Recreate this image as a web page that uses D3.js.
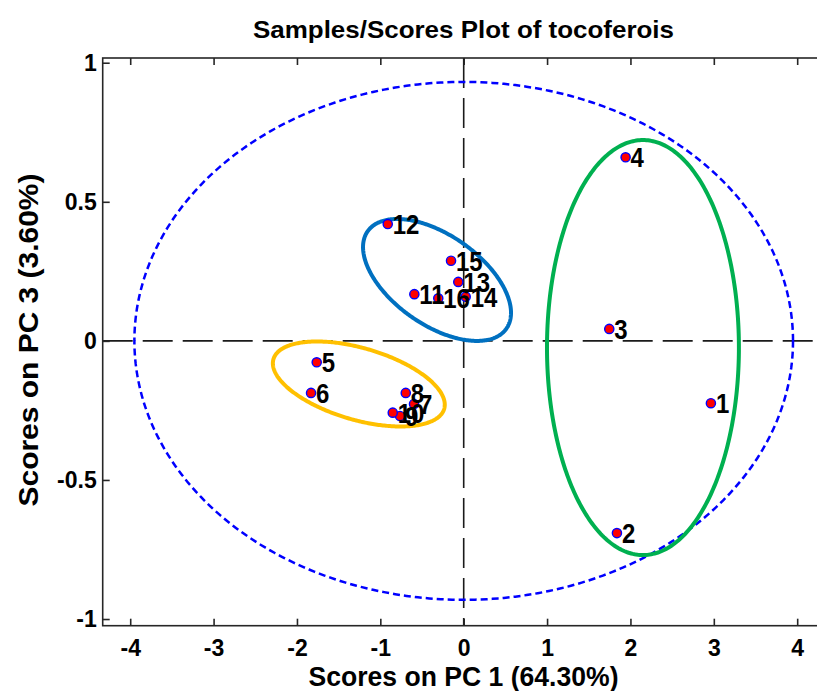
<!DOCTYPE html>
<html><head><meta charset="utf-8">
<script src="https://cdn.jsdelivr.net/npm/d3@7/dist/d3.min.js"></script>
<style>body{margin:0;background:#fff;overflow:hidden}svg{display:block}</style>
</head><body><svg id="c" width="817" height="691"></svg>
<script>
// ---- data ----
const sampleIds = ["1","2","3","4","5","6","7","8","9","10","11","12","13","14","15","16"];
const pc1Scores = [2.965, 1.838, 1.746, 1.942, -1.763, -1.831, -0.596, -0.695, -0.764, -0.851, -0.592, -0.911, -0.065, 0.024, -0.152, -0.305];
const pc3Scores = [-0.224, -0.691, 0.043, 0.660, -0.077, -0.187, -0.227, -0.187, -0.270, -0.258, 0.168, 0.420, 0.212, 0.159, 0.288, 0.153];
const xTickValues = [-4, -3, -2, -1, 0, 1, 2, 3, 4];
const xTickLabels = ["-4", "-3", "-2", "-1", "0", "1", "2", "3", "4"];
const yTickValues = [-1, -0.5, 0, 0.5, 1];
const yTickLabels = ["-1", "-0.5", "0", "0.5", "1"];
const xDomain = [-4.33, 4.33];
const yDomain = [-1.024, 1.017];
// ellipses: centre + two semi-axis vectors, in score units
const ellipseNames = ["confidence", "groupA", "groupB", "groupC"];
const ellipseCx = [0, 2.150, -0.320, -1.258];
const ellipseCy = [0, -0.024, 0.219, -0.155];
const ellipseAxisU = [[3.95, 0], [1.151, 0], [0.832, -0.175], [1.024, -0.0893]];
const ellipseAxisV = [[0, 0.931], [0, 0.746], [-0.309, -0.132], [-0.120, -0.124]];
const titleText = "Samples/Scores Plot of tocoferois";
const xLabelText = "Scores on PC 1 (64.30%)";
const yLabelText = "Scores on PC 3 (3.60%)";

// ---- styles ----
const ellipseStyle = {
  confidence: {stroke: "#0000ff", width: 2.5, dash: "7,4"},
  groupA: {stroke: "#00b050", width: 4, dash: null},
  groupB: {stroke: "#0070c0", width: 4, dash: null},
  groupC: {stroke: "#ffc000", width: 4, dash: null}
};
const FONT = "Arial, 'Liberation Sans', sans-serif";

const svg = d3.select("#c");
const x = d3.scaleLinear().domain(xDomain).range([102.7, 824.7]);
const y = d3.scaleLinear().domain(yDomain).range([625.7, 58]);

// zero lines
const zl = svg.append("g").attr("stroke", "#1a1a1a").attr("stroke-width", 1.6).attr("stroke-dasharray", "30,10");
zl.append("line").attr("x1", x(xDomain[0])).attr("x2", x(xDomain[1])).attr("y1", y(0)).attr("y2", y(0));
zl.append("line").attr("x1", x(0)).attr("x2", x(0)).attr("y1", y(yDomain[1])).attr("y2", y(yDomain[0]));

// ellipses
const line = d3.line().x(d => x(d[0])).y(d => y(d[1])).curve(d3.curveLinearClosed);
ellipseNames.forEach((n, i) => {
  const pts = d3.range(0, 360, 1).map(deg => {
    const t = deg * Math.PI / 180;
    return [ellipseCx[i] + Math.cos(t) * ellipseAxisU[i][0] + Math.sin(t) * ellipseAxisV[i][0],
            ellipseCy[i] + Math.cos(t) * ellipseAxisU[i][1] + Math.sin(t) * ellipseAxisV[i][1]];
  });
  const st = ellipseStyle[n];
  svg.append("path").attr("d", line(pts)).attr("fill", "none")
    .attr("stroke", st.stroke).attr("stroke-width", st.width)
    .attr("stroke-dasharray", st.dash);
});

// points
const pts = sampleIds.map((id, i) => ({id, px: pc1Scores[i], py: pc3Scores[i]}));
svg.append("g").selectAll("circle").data(pts).join("circle")
  .attr("cx", d => x(d.px)).attr("cy", d => y(d.py)).attr("r", 4.6)
  .attr("fill", "#ff0000").attr("stroke", "#0000ff").attr("stroke-width", 1.4);
svg.append("g").selectAll("text").data(pts).join("text")
  .attr("transform", d => `translate(${x(d.px) + 5},${y(d.py)}) scale(1,1.15)`)
  .attr("dy", "0.36em")
  .attr("font-family", FONT).attr("font-size", 24).attr("font-weight", "bold")
  .attr("fill", "#000").text(d => d.id);

// frame
svg.append("rect").attr("x", x(xDomain[0])).attr("y", y(yDomain[1]))
  .attr("width", x(xDomain[1]) - x(xDomain[0])).attr("height", y(yDomain[0]) - y(yDomain[1]))
  .attr("fill", "none").attr("stroke", "#262626").attr("stroke-width", 1.6);

// axes
function styleAxis(g) {
  g.select(".domain").remove();
  g.selectAll(".tick line").attr("stroke", "#262626").attr("stroke-width", 1.6);
  g.selectAll(".tick text").attr("font-family", FONT).attr("font-size", 23)
    .attr("font-weight", "bold").attr("fill", "#000");
}
svg.append("g").attr("transform", `translate(0,${y(yDomain[0])})`)
  .call(d3.axisBottom(x).tickValues(xTickValues).tickFormat((d, i) => xTickLabels[i]).tickSizeInner(-7).tickSizeOuter(0).tickPadding(14))
  .call(styleAxis);
svg.append("g").attr("transform", `translate(0,${y(yDomain[1])})`)
  .call(d3.axisTop(x).tickValues(xTickValues).tickFormat("").tickSizeInner(-7).tickSizeOuter(0))
  .call(styleAxis);
svg.append("g").attr("transform", `translate(${x(xDomain[0])},0)`)
  .call(d3.axisLeft(y).tickValues(yTickValues).tickFormat((d, i) => yTickLabels[i]).tickSizeInner(-7).tickSizeOuter(0).tickPadding(6))
  .call(styleAxis);
svg.append("g").attr("transform", `translate(${x(xDomain[1])},0)`)
  .call(d3.axisRight(y).tickValues(yTickValues).tickFormat("").tickSizeInner(-7).tickSizeOuter(0))
  .call(styleAxis);

// titles
svg.append("text").attr("x", 463.5).attr("y", 38).attr("text-anchor", "middle")
  .attr("font-family", FONT).attr("font-size", 24).attr("font-weight", "bold")
  .attr("textLength", 421).attr("lengthAdjust", "spacingAndGlyphs").text(titleText);
svg.append("text").attr("x", 463.5).attr("y", 686).attr("text-anchor", "middle")
  .attr("font-family", FONT).attr("font-size", 27).attr("font-weight", "bold")
  .attr("textLength", 310).attr("lengthAdjust", "spacingAndGlyphs").text(xLabelText);
svg.append("text").attr("transform", "translate(38,340) rotate(-90)").attr("text-anchor", "middle")
  .attr("font-family", FONT).attr("font-size", 27).attr("font-weight", "bold")
  .attr("textLength", 333).attr("lengthAdjust", "spacingAndGlyphs").text(yLabelText);
</script>
</body></html>
